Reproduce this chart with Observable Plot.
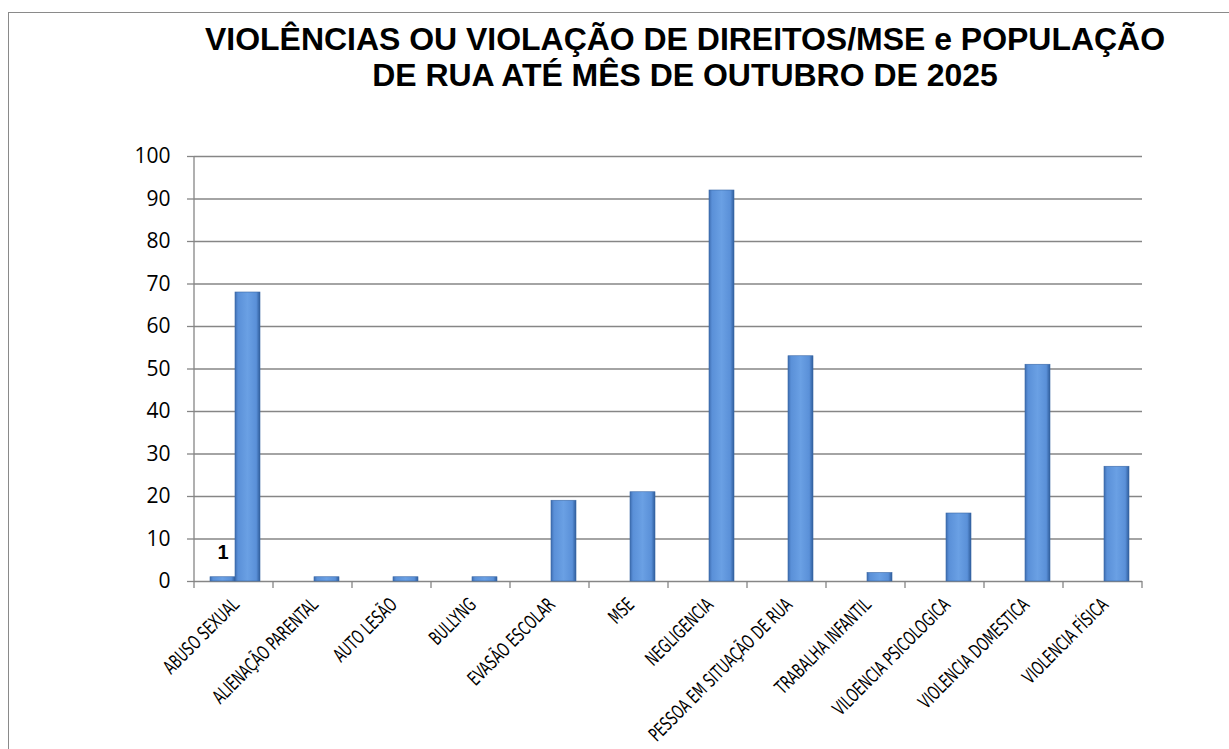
<!DOCTYPE html>
<html>
<head>
<meta charset="utf-8">
<script src="https://cdn.jsdelivr.net/npm/d3@7"></script>
<script src="https://cdn.jsdelivr.net/npm/@observablehq/plot@0.6"></script>
<style>
  html, body { margin: 0; padding: 0; overflow: hidden; background: #fff; }
  #wrap { position: relative; width: 1229px; height: 749px; overflow: hidden; }
  #border { position: absolute; left: 8px; top: 12px; width: 1300px; height: 800px;
            border-left: 1.5px solid #8a8a8a; border-top: 1.5px solid #8a8a8a; pointer-events: none; }
  #titlebox { position: relative; height: 100px; }
  #title { position: absolute; left: 685px; top: 22px; white-space: nowrap; text-align: center;
           font-family: "Liberation Sans", Arial, sans-serif; font-weight: bold; font-size: 31px;
           line-height: 36px; color: #000; transform-origin: 50% 0; }
  svg { display: block; }
</style>
</head>
<body>
<div id="wrap">
  <div id="titlebox"><div id="title">VIOLÊNCIAS OU VIOLAÇÃO DE DIREITOS/MSE e POPULAÇÃO<br>DE RUA ATÉ MÊS DE OUTUBRO DE 2025</div></div>
  <div id="chart"></div>
  <div id="border"></div>
</div>
<script>
const categories = ["ABUSO SEXUAL","ALIENAÇÃO PARENTAL","AUTO LESÃO","BULLYNG","EVASÃO ESCOLAR","MSE","NEGLIGENCIA","PESSOA EM SITUAÇÃO DE RUA","TRABALHA INFANTIL","VILOENCIA PSICOLOGICA","VIOLENCIA DOMESTICA","VIOLENCIA FÍSICA"];
const seriesNames = ["Série 1", "Série 2"];
const serie1 = [1, null, null, null, null, null, null, null, null, null, null, null];
const serie2 = [68, 1, 1, 1, 19, 21, 92, 53, 2, 16, 51, 27];
const yTicks = [0, 10, 20, 30, 40, 50, 60, 70, 80, 90, 100];

const data = categories.flatMap((c, i) => [
  {cat: c, serie: seriesNames[0], value: serie1[i]},
  {cat: c, serie: seriesNames[1], value: serie2[i]}
]).filter(d => d.value != null);
const labelled = data.filter(d => d.serie === seriesNames[0]);

// title width fit
const t = document.getElementById("title");
const tw = t.getBoundingClientRect().width;
t.style.transform = `translateX(-50%) scaleX(${960 / tw})`;

const chart = Plot.plot({
  width: 1229,
  height: 649,
  marginLeft: 192,
  marginRight: 86,
  marginTop: 56,
  marginBottom: 168,
  style: {fontFamily: '"Open Sans", sans-serif', color: "#000", background: "transparent", overflow: "visible"},
  fx: {domain: categories, padding: 0, axis: null, label: null},
  x: {domain: seriesNames, paddingInner: 0, paddingOuter: 0.524, align: 0.54, axis: null, label: null},
  y: {domain: [0, 100], axis: null},
  marks: [
    Plot.gridY(yTicks, {stroke: "#868686", strokeOpacity: 1, strokeWidth: 1.3}),
    Plot.axisY(yTicks, {tickSize: 7, tickPadding: 17, stroke: "#868686", strokeWidth: 1.3, fill: "#000", fontSize: 21, label: null}),
    Plot.barY(data, {fx: "cat", x: "serie", y: "value", fill: "url(#barGrad)", stroke: "#3b68a6", strokeWidth: 0.6}),
    Plot.text(labelled, {fx: "cat", x: "serie", y: "value", text: d => String(d.value), lineAnchor: "bottom", dy: -18,
      fontWeight: "bold", fontSize: 20, fontFamily: '"Liberation Sans", Arial, sans-serif', fill: "#000"}),
    Plot.text(categories, {fx: d => d, text: d => d, frameAnchor: "bottom", rotate: -45, textAnchor: "end",
      lineAnchor: "middle", dx: 2, dy: 20, fontSize: 19, fill: "#000",
      fontFamily: '"Liberation Sans Narrow", "DejaVu Sans Condensed", sans-serif'})
  ]
});

// gradient for bars
const svg = d3.select(chart);
const defs = svg.append("defs");
const grad = defs.append("linearGradient").attr("id", "barGrad").attr("x1", 0).attr("x2", 1).attr("y1", 0).attr("y2", 0);
[["0%", "#3d6cb0"], ["12%", "#5a90d8"], ["50%", "#6aa0e4"], ["85%", "#5a90d8"], ["100%", "#2f5d9c"]]
  .forEach(([o, c]) => grad.append("stop").attr("offset", o).attr("stop-color", c));

// axis line and boundary ticks from the library's scales
const fx = chart.scale("fx"), y = chart.scale("y");
const bounds = categories.map(c => fx.apply(c));
bounds.push(fx.apply(categories[categories.length - 1]) + fx.bandwidth);
const g = svg.append("g").attr("stroke", "#868686").attr("stroke-width", 1.3);
g.append("line").attr("x1", bounds[0]).attr("x2", bounds[0]).attr("y1", y.apply(100)).attr("y2", y.apply(0));
bounds.forEach(b => g.append("line").attr("x1", b).attr("x2", b).attr("y1", y.apply(0)).attr("y2", y.apply(0) + 7));

document.getElementById("chart").appendChild(chart);

// condense the category labels (the reference uses a narrow display face)
const labels = svg.selectAll("text").filter(function() { return categories.includes(this.textContent); });
let refLen = null;
labels.each(function() { if (this.textContent === "ALIENAÇÃO PARENTAL") refLen = this.getComputedTextLength(); });
const k = refLen ? 140 / refLen : 0.8;
labels.each(function() {
  const tr = this.getAttribute("transform") || "";
  if (tr.includes("rotate")) {
    this.setAttribute("transform", tr + ` scale(${k},1)`);
  } else {
    const p = this.parentNode, ptr = p.getAttribute("transform") || "";
    if (ptr.includes("rotate")) p.setAttribute("transform", ptr + ` scale(${k},1)`);
  }
});
</script>
</body>
</html>
